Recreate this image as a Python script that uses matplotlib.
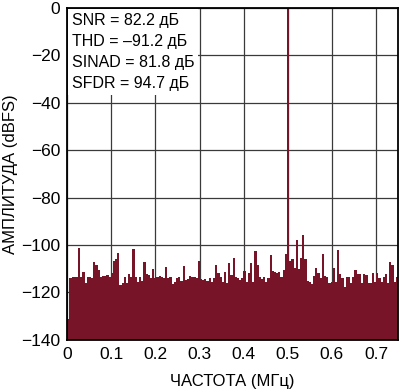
import numpy as np
import matplotlib
matplotlib.use('Agg')
import matplotlib.pyplot as plt

plt.rcParams['font.family'] = ['Liberation Sans', 'DejaVu Sans']

# FFT bins (dBFS), read left to right from 0 to 0.75 MHz
floor_a = [-131.0,
           -114.0, -113.7, -113.3, -113.5, -101.3, -113.3, -111.2, -116.1, -113.3, -113.5,
           -114.0, -107.0, -108.4, -110.5, -113.3, -113.0, -112.9, -112.6, -113.7, -111.9,
           -106.7, -105.9, -103.2, -116.8, -116.1, -113.7, -116.1, -112.3, -113.7, -101.5,
           -113.7, -115.4, -113.3, -115.1, -107.0, -112.3, -112.6]
floor_b = [-114.0, -110.2, -114.0, -113.7, -112.9, -113.7, -114.0, -109.4, -114.0, -113.3,
           -116.5, -115.4, -114.0, -113.3, -115.1, -108.7, -114.7, -114.3, -113.1, -113.3,
           -113.3, -114.0, -106.7, -114.3, -114.7, -114.3, -115.1, -114.0, -115.4, -114.0,
           -108.4, -111.6, -113.3, -115.4, -111.2, -116.1, -107.5]
floor_c = [-112.6, -105.6, -113.3, -114.0, -114.7, -114.0, -110.8, -115.4, -111.9, -107.7,
           -115.4, -102.4, -108.4, -113.7, -114.3, -113.7, -115.4, -114.0]
tone_region = [-104.2, -111.0, -111.3, -112.0, -111.4, -113.4, -110.6, -103.8, 0.0, -106.7,
               -106.0, -109.6, -97.7, -110.3, -105.4, -95.6, -106.0, -115.0, -115.7, -116.4,
               -112.9]
floor_d = [-109.8, -111.6, -114.0, -103.9, -112.9, -113.3, -116.1, -115.4, -109.8, -115.8,
           -101.9, -112.3, -114.0, -117.5, -113.3, -113.3, -116.1, -113.3, -110.5, -112.3,
           -112.3, -116.1, -112.3, -112.6, -116.1, -116.1, -111.9, -115.4, -111.9, -114.0,
           -115.4, -113.7, -112.3, -116.1, -107.0, -108.4, -115.4, -113.7]

amplitude = np.array(floor_a + floor_b + floor_c + tone_region + floor_d)
f_max = 0.75
df = f_max / len(amplitude)
freq = np.arange(len(amplitude)) * df

stats = ['SNR = 82.2 дБ', 'THD = –91.2 дБ', 'SINAD = 81.8 дБ', 'SFDR = 94.7 дБ']

x_ticks = [0, 0.1, 0.2, 0.3, 0.4, 0.5, 0.6, 0.7]
y_ticks = [0, -20, -40, -60, -80, -100, -120, -140]

fig = plt.figure(figsize=(4.0, 3.92), dpi=100)
ax = fig.add_axes([0.168, 0.133, 0.827, 0.847])

bar_color = '#771427'
ax.bar(freq, amplitude + 140, bottom=-140, width=df, align='edge',
       color=bar_color, linewidth=0, zorder=2)

ax.set_xlim(0, f_max)
ax.set_ylim(-140, 0)
ax.set_xticks(x_ticks)
ax.set_xticklabels(['0' if t == 0 else f'{t:.1f}' for t in x_ticks])
ax.set_yticks(y_ticks)
ax.set_yticklabels(['0' if t == 0 else f'\u2212{abs(t)}' for t in y_ticks])
ax.tick_params(length=0, labelsize=12.5, pad=5)
ax.grid(True, color='#3a3a3a', linewidth=0.9, zorder=1)
ax.set_axisbelow(True)
for s in ax.spines.values():
    s.set_linewidth(1.3)
    s.set_color('black')
    s.set_zorder(5)

ax.set_xlabel('ЧАСТОТА (МГц)', fontsize=12, labelpad=9)
ax.set_ylabel('АМПЛИТУДА (dBFS)', fontsize=12, labelpad=2)

# white panel behind the stats text
ax.text(0.014, 0.985, '\n'.join(stats), transform=ax.transAxes, ha='left', va='top',
        fontsize=11.5, linespacing=1.5, zorder=4,
        bbox=dict(boxstyle='square,pad=0.25', facecolor='white', edgecolor='none'))

fig.savefig('out.png', dpi=100)
